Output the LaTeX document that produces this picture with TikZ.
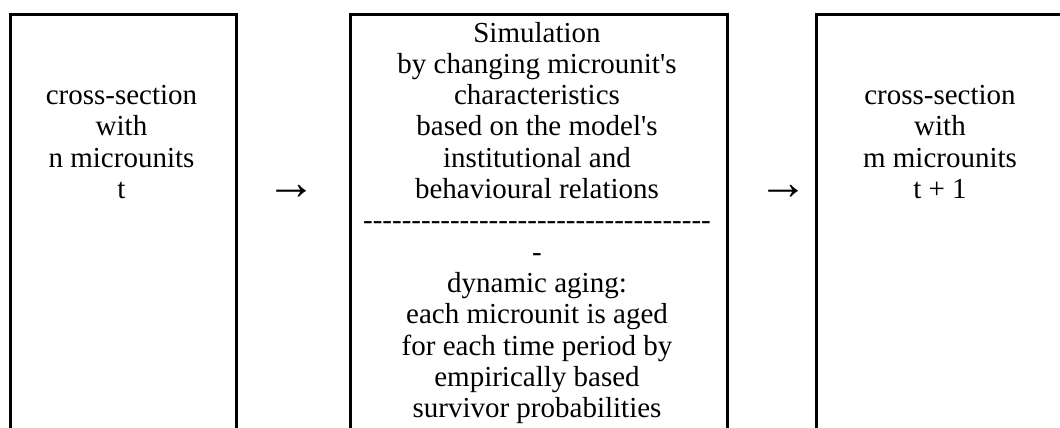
\documentclass[tikz,border=0pt]{standalone}
\usepackage{fontspec}
\setmainfont{Liberation Serif}[Ligatures=TeXOff]
\begin{document}
\begin{tikzpicture}[x=1pt,y=-1pt,
  cell/.style={draw, line width=3pt, inner sep=0pt, anchor=north west, minimum height=460pt},
  txt/.style={align=center, inner sep=0pt, font=\fontsize{29}{31.3}\selectfont},
  arr/.style={inner sep=0pt, font=\fontsize{50}{50}\selectfont}]
\useasboundingbox (0,0) rectangle (1060,428);
\clip (0,0) rectangle (1060,428);
\node[cell, minimum width=226pt] (c1) at (8.5,13.5) {};
\node[cell, minimum width=377pt] (c2) at (348.5,13.5) {};
\node[cell, minimum width=260pt] (c3) at (814.5,13.5) {};
\node[txt, anchor=base] (t1) at (121.5,198.5) {cross-section\\with\\n microunits\\t};
\node[txt, anchor=base] (t2) at (537,417.6) {Simulation\\by changing microunit's\\characteristics\\based on the model's\\institutional and\\behavioural relations\\------------------------------------\\-\\dynamic aging:\\each microunit is aged\\for each time period by\\empirically based\\survivor probabilities};
\node[txt, anchor=base] (t3) at (940,198.5) {cross-section\\with\\m microunits\\t + 1};
\node[arr, anchor=center] (a1) at (291,192) {→};
\node[arr, anchor=center] (a2) at (783,192) {→};
\end{tikzpicture}
\end{document}
